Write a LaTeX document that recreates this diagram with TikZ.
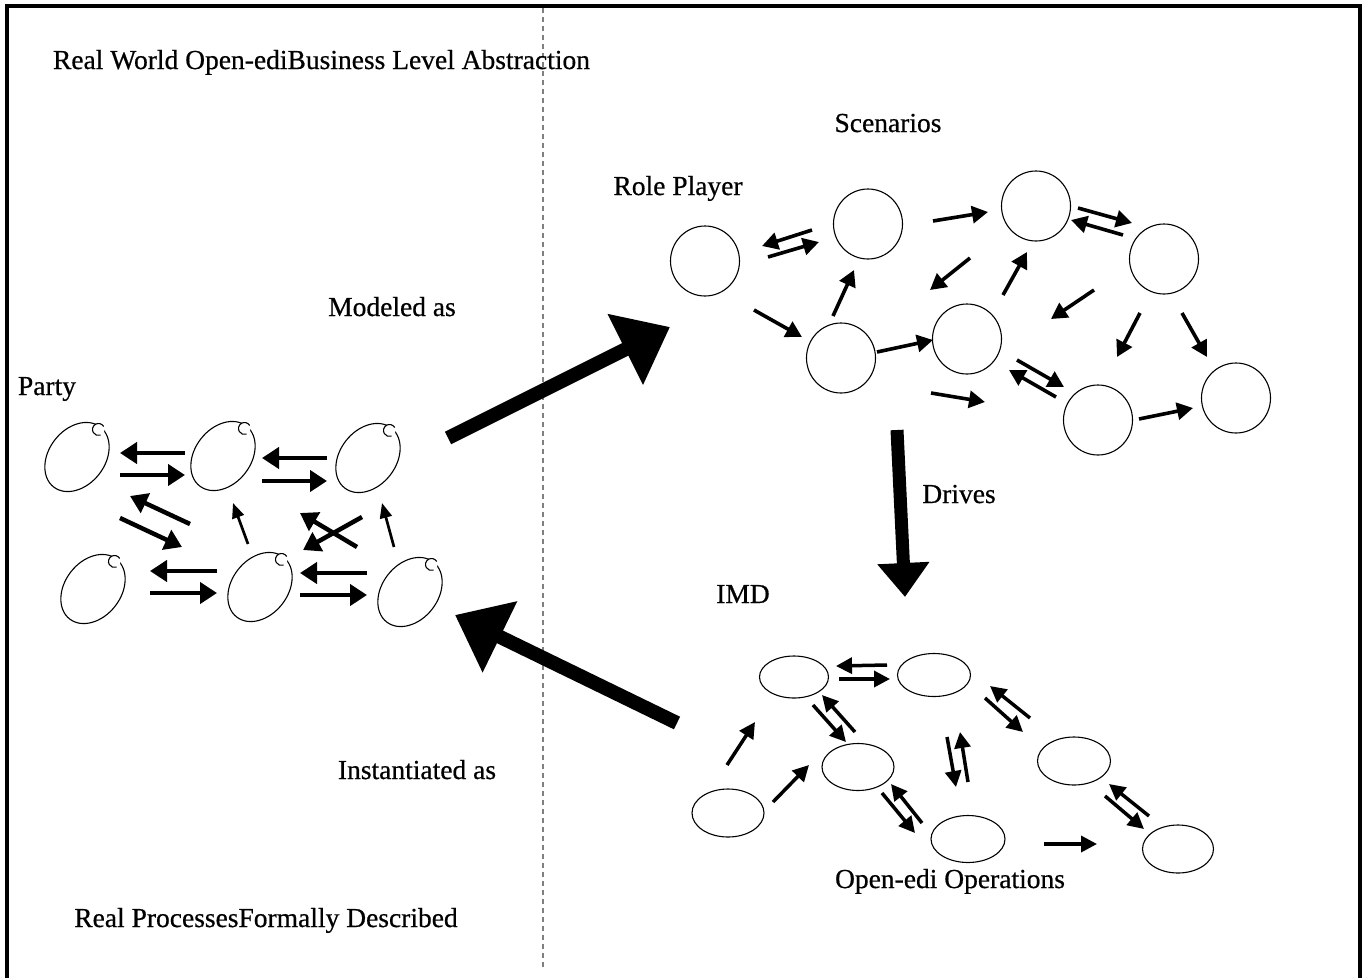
\documentclass[tikz,border=0pt]{standalone}
\usepackage{fontspec}
\setmainfont{Liberation Serif}[FakeBold=0.6]
\usetikzlibrary{arrows.meta,shapes.geometric,calc}

% small "bite" on the upper tip of a party ellipse
\newcommand\partynotch[1]{%
  \fill[white] ([shift={(21.5,-27.5)}]#1.center) circle (6);
  \draw[line width=1.1pt] ([shift={(21.5,-27.5)}]#1.center) ++(-30:6)
       arc[start angle=-30, end angle=-290, radius=6];
}

\begin{document}
\begin{tikzpicture}[x=1pt,y=-1pt,
  lbl/.style={font=\fontsize{27.5}{33}\selectfont, inner sep=0pt, anchor=base},
  party/.style={ellipse, draw, line width=1.1pt, minimum width=76pt, minimum height=56pt, inner sep=0pt, rotate=52},
  role/.style={ellipse, draw, line width=1.1pt, minimum width=69pt, minimum height=70pt, inner sep=0pt},
  imd/.style={ellipse, draw, line width=1.1pt, inner sep=0pt},
  pa/.style={line width=4.5pt, -{Triangle[length=17pt,width=21pt]}},
  pthin/.style={line width=2.7pt, -{Triangle[length=15pt,width=12pt]}},
  sa/.style={line width=3.6pt, -{Triangle[length=16pt,width=17pt]}},
  ia/.style={line width=3.5pt, -{Triangle[length=16pt,width=16pt]}},
  bigarrow/.style={line width=14pt, -{Triangle[length=50pt,width=76pt]}},
  drivearrow/.style={line width=13pt, -{Triangle[length=34pt,width=50pt]}},
]
\useasboundingbox (0,0) rectangle (1365,978);

% outer frame (open at the bottom) and the dashed divider
\draw[line width=3.3pt] (7,978) -- (7,6) -- (1360,6) -- (1360,978);
\draw[gray, line width=1.4pt, dash pattern=on 5pt off 4pt] (543,8) -- (543,970);

% ---------- labels ----------
\node[lbl] (title) at (321.5,69) {Real World Open-ediBusiness Level Abstraction};
\node[lbl] (scen) at (888,132) {Scenarios};
\node[lbl] (rolep) at (678,195) {Role Player};
\node[lbl] (model) at (392,316) {Modeled as};
\node[lbl] (partyl) at (47,395) {Party};
\node[lbl] (drives) at (959,503) {Drives};
\node[lbl] (imdl) at (743,603) {IMD};
\node[lbl] (inst) at (417,779) {Instantiated as};
\node[lbl] (oper) at (950,888) {Open-edi Operations};
\node[lbl] (real) at (266,927) {Real ProcessesFormally Described};

% ---------- parties ----------
\node[party] (p1) at (77,457) {};
\node[party] (p2) at (223,456) {};
\node[party] (p3) at (368,458) {};
\node[party] (p4) at (93,589) {};
\node[party] (p5) at (260,587) {};
\node[party] (p6) at (410,592) {};
\foreach \p in {p1,p2,p3,p4,p5,p6} {\partynotch{\p}}

\draw[pa] ([shift={(-38,-3)}]p2.center) -- ([shift={(43,-4)}]p1.center);
\draw[pa] ([shift={(43,18)}]p1.center) -- ([shift={(-38,19)}]p2.center);
\draw[pa] ([shift={(-41,0)}]p3.center) -- ([shift={(39,2)}]p2.center);
\draw[pa] ([shift={(39,25)}]p2.center) -- ([shift={(-41,23)}]p3.center);
\draw[pa] ([shift={(-43,-16)}]p5.center) -- ([shift={(57,-18)}]p4.center);
\draw[pa] ([shift={(57,4)}]p4.center) -- ([shift={(-43,6)}]p5.center);
\draw[pa] ([shift={(-43,-19)}]p6.center) -- ([shift={(40,-14)}]p5.center);
\draw[pa] ([shift={(40,8)}]p5.center) -- ([shift={(-43,3)}]p6.center);
\draw[pa] ([shift={(-70,-63)}]p5.center) -- ([shift={(53,39)}]p1.center);
\draw[pa] ([shift={(43,61)}]p1.center) -- ([shift={(-78,-40)}]p5.center);
\draw[pthin] ([shift={(-12,-43)}]p5.center) -- ([shift={(10,47)}]p2.center);
\draw[pa] ([shift={(-6,59)}]p3.center) -- ([shift={(43,-37)}]p5.center);
\draw[pa] ([shift={(-53,-45)}]p6.center) -- ([shift={(77,57)}]p2.center);
\draw[pthin] ([shift={(-16,-45)}]p6.center) -- ([shift={(14,45)}]p3.center);

% ---------- role players (scenarios) ----------
\node[role] (s1) at (705,261) {};
\node[role] (s2) at (868,224) {};
\node[role] (s3) at (1036,206) {};
\node[role] (s4) at (1164,259) {};
\node[role] (s5) at (841,358) {};
\node[role] (s6) at (967,339) {};
\node[role] (s7) at (1098,420) {};
\node[role] (s8) at (1236,398) {};

\draw[sa] ([shift={(-56,6)}]s2.center) -- ([shift={(57,-15)}]s1.center);
\draw[sa] ([shift={(63,-4)}]s1.center) -- ([shift={(-49,18)}]s2.center);
\draw[sa] ([shift={(49,49)}]s1.center) -- ([shift={(-39,-21)}]s5.center);
\draw[sa] ([shift={(-8,-42)}]s5.center) -- ([shift={(-14,46)}]s2.center);
\draw[sa] ([shift={(65,-3)}]s2.center) -- ([shift={(-48,6)}]s3.center);
\draw[sa] ([shift={(42,2)}]s3.center) -- ([shift={(-32,-36)}]s4.center);
\draw[sa] ([shift={(-41,-24)}]s4.center) -- ([shift={(35,14)}]s3.center);
\draw[sa] ([shift={(-66,52)}]s3.center) -- ([shift={(89,-68)}]s5.center);
\draw[sa] ([shift={(36,-44)}]s6.center) -- ([shift={(-9,46)}]s3.center);
\draw[sa] ([shift={(36,-6)}]s5.center) -- ([shift={(-34,1)}]s6.center);
\draw[sa] ([shift={(-70,31)}]s4.center) -- ([shift={(84,-20)}]s6.center);
\draw[sa] ([shift={(-24,54)}]s4.center) -- ([shift={(19,-63)}]s7.center);
\draw[sa] ([shift={(18,54)}]s4.center) -- ([shift={(-29,-41)}]s8.center);
\draw[sa] ([shift={(50,21)}]s6.center) -- ([shift={(-34,-33)}]s7.center);
\draw[sa] ([shift={(-42,-23)}]s7.center) -- ([shift={(42,31)}]s6.center);
\draw[sa] ([shift={(90,35)}]s5.center) -- ([shift={(-113,-18)}]s7.center);
\draw[sa] ([shift={(41,-1)}]s7.center) -- ([shift={(-43,10)}]s8.center);

% ---------- IMD operations ----------
\node[imd, minimum width=69pt, minimum height=42pt] (i1) at (794,677) {};
\node[imd, minimum width=73pt, minimum height=43pt] (i2) at (934,675) {};
\node[imd, minimum width=72pt, minimum height=47pt] (i3) at (858,767) {};
\node[imd, minimum width=72pt, minimum height=48pt] (i4) at (728,813) {};
\node[imd, minimum width=74pt, minimum height=47pt] (i5) at (968,839) {};
\node[imd, minimum width=73pt, minimum height=48pt] (i6) at (1074,761) {};
\node[imd, minimum width=71pt, minimum height=48pt] (i7) at (1178,849) {};

\draw[ia] ([shift={(-47,-10)}]i2.center) -- ([shift={(42,-11)}]i1.center);
\draw[ia] ([shift={(45,2)}]i1.center) -- ([shift={(-44,4)}]i2.center);
\draw[ia] ([shift={(19,28)}]i1.center) -- ([shift={(-12,-25)}]i3.center);
\draw[ia] ([shift={(-3,-35)}]i3.center) -- ([shift={(28,18)}]i1.center);
\draw[ia] ([shift={(-44,-43)}]i6.center) -- ([shift={(56,11)}]i2.center);
\draw[ia] ([shift={(51,23)}]i2.center) -- ([shift={(-51,-29)}]i6.center);
\draw[ia] ([shift={(13,62)}]i2.center) -- ([shift={(-12,-52)}]i5.center);
\draw[ia] ([shift={(0,-57)}]i5.center) -- ([shift={(26,57)}]i2.center);
\draw[ia] ([shift={(24,26)}]i3.center) -- ([shift={(-53,-6)}]i5.center);
\draw[ia] ([shift={(-46,-16)}]i5.center) -- ([shift={(33,17)}]i3.center);
\draw[ia] ([shift={(-29,-33)}]i7.center) -- ([shift={(35,23)}]i6.center);
\draw[ia] ([shift={(31,35)}]i6.center) -- ([shift={(-34,-20)}]i7.center);
\draw[ia] ([shift={(76,5)}]i5.center) -- ([shift={(-81,-5)}]i7.center);
\draw[ia] ([shift={(45,-11)}]i4.center) -- ([shift={(-49,-2)}]i3.center);
\draw[ia] ([shift={(-1,-48)}]i4.center) -- ([shift={(-39,45)}]i1.center);

% ---------- main flow between the three levels ----------
\draw[bigarrow] ([shift={(80,-20)}]p3.center) -- ([shift={(-35,66)}]s1.center);
\draw[drivearrow] ([shift={(56,72)}]s5.center) -- ([shift={(-29,-78)}]i2.center);
\draw[bigarrow] ([shift={(-51,-90)}]i4.center) -- ([shift={(45,23)}]p6.center);
\end{tikzpicture}
\end{document}
